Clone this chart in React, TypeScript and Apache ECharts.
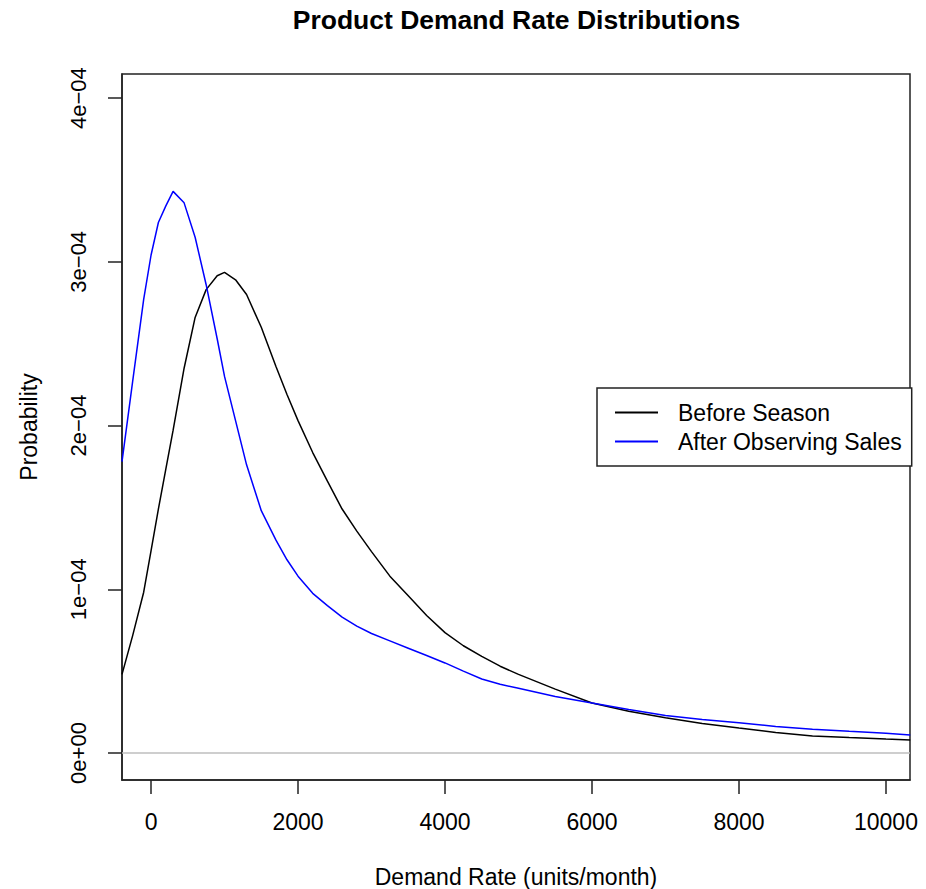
import React, { useEffect, useRef } from "react";
import * as echarts from "echarts";

// Demand rate (units/month) sample points
const demandRate = [
  -395, -250, -100, 0, 100, 200, 300, 450, 600, 750, 900, 1000, 1150, 1300,
  1500, 1700, 1850, 2000, 2200, 2400, 2600, 2800, 3000, 3250, 3500, 3750,
  4000, 4250, 4500, 4750, 5000, 5500, 6000, 6500, 7000, 7500, 8000, 8500,
  9000, 9500, 10000, 10330,
];

// Probability density, "Before Season"
const beforeSeason = [
  4.8e-5, 7.17e-5, 9.82e-5, 1.235e-4, 1.49e-4, 1.73e-4, 1.97e-4, 2.35e-4,
  2.66e-4, 2.83e-4, 2.915e-4, 2.935e-4, 2.89e-4, 2.8e-4, 2.6e-4, 2.36e-4,
  2.19e-4, 2.03e-4, 1.835e-4, 1.66e-4, 1.49e-4, 1.355e-4, 1.23e-4, 1.08e-4,
  9.6e-5, 8.4e-5, 7.35e-5, 6.55e-5, 5.9e-5, 5.3e-5, 4.8e-5, 3.9e-5, 3.05e-5,
  2.55e-5, 2.15e-5, 1.8e-5, 1.52e-5, 1.25e-5, 1.04e-5, 9.4e-6, 8.5e-6, 8.0e-6,
];

// Probability density, "After Observing Sales"
const afterSales = [
  1.78e-4, 2.27e-4, 2.77e-4, 3.04e-4, 3.24e-4, 3.34e-4, 3.43e-4, 3.36e-4,
  3.15e-4, 2.86e-4, 2.53e-4, 2.3e-4, 2.03e-4, 1.76e-4, 1.48e-4, 1.3e-4,
  1.18e-4, 1.08e-4, 9.75e-5, 9.0e-5, 8.3e-5, 7.75e-5, 7.3e-5, 6.85e-5,
  6.4e-5, 5.95e-5, 5.5e-5, 5.0e-5, 4.52e-5, 4.2e-5, 3.95e-5, 3.45e-5, 3.05e-5,
  2.65e-5, 2.29e-5, 2.05e-5, 1.84e-5, 1.62e-5, 1.45e-5, 1.32e-5, 1.2e-5, 1.1e-5,
];

const seriesNames = ["Before Season", "After Observing Sales"];
const xTicks = [0, 2000, 4000, 6000, 8000, 10000];
const xTickLabels = ["0", "2000", "4000", "6000", "8000", "10000"];
const yTicks = [0, 1e-4, 2e-4, 3e-4, 4e-4];
const yTickLabels = ["0e+00", "1e\u221204", "2e\u221204", "3e\u221204", "4e\u221204"];

const FONT = "'Liberation Sans', Arial, Helvetica, sans-serif";

export default function App() {
  const ref = useRef<HTMLDivElement>(null);

  useEffect(() => {
    if (!ref.current) return;
    const chart = echarts.init(ref.current, null, { renderer: "svg" });
    const option: any = {
      animation: false,
      backgroundColor: "#ffffff",
      textStyle: { fontFamily: FONT },
      graphic: [
        {
          type: "text",
          x: 516.5,
          y: 20,
          style: {
            text: "Product Demand Rate Distributions",
            font: `bold 26.5px ${FONT}`,
            fill: "#000",
            textAlign: "center",
            textVerticalAlign: "middle",
          },
        },
      ],
      grid: {
        left: 122,
        right: 16,
        top: 74,
        bottom: 109,
        show: true,
        borderColor: "#222",
        borderWidth: 1.5,
        backgroundColor: "transparent",
        containLabel: false,
        outerBoundsMode: "none",
      },
      legend: {
        orient: "vertical",
        left: 597,
        top: 388,
        padding: [13, 10, 13, 18],
        itemGap: 6,
        itemWidth: 43,
        itemHeight: 2,
        icon: "rect",
        borderColor: "#222",
        borderWidth: 1.5,
        backgroundColor: "#fff",
        borderRadius: 0,
        data: seriesNames,
        textStyle: {
          fontFamily: FONT,
          fontSize: 23,
          color: "#000",
          padding: [0, 0, 0, 15],
        },
      },
      xAxis: {
        type: "value",
        position: "bottom",
        min: -395,
        max: 10327,
        name: "Demand Rate (units/month)",
        nameLocation: "middle",
        nameGap: 85,
        nameTextStyle: { fontFamily: FONT, fontSize: 23, color: "#000" },
        axisLine: { show: true, onZero: false, lineStyle: { color: "#222", width: 1.5 } },
        axisTick: {
          show: true,
          inside: false,
          length: 14,
          customValues: xTicks,
          lineStyle: { color: "#222", width: 1.5 },
        },
        axisLabel: {
          customValues: xTicks,
          inside: false,
          fontFamily: FONT,
          fontSize: 23,
          color: "#000",
          margin: 30,
          formatter: (v: number) => xTickLabels[xTicks.indexOf(v)] ?? "",
        },
        splitLine: { show: false },
      },
      yAxis: {
        type: "value",
        position: "left",
        min: -0.165e-4,
        max: 4.147e-4,
        name: "Probability",
        nameLocation: "middle",
        nameRotate: 90,
        nameGap: 82,
        nameTextStyle: { fontFamily: FONT, fontSize: 23, color: "#000" },
        axisLine: { show: true, onZero: false, lineStyle: { color: "#222", width: 1.5 } },
        axisTick: {
          show: true,
          inside: false,
          length: 14,
          customValues: yTicks,
          lineStyle: { color: "#222", width: 1.5 },
        },
        axisLabel: {
          customValues: yTicks,
          inside: false,
          rotate: 90,
          fontFamily: FONT,
          fontSize: 22,
          color: "#000",
          margin: 33,
          formatter: (v: number) => yTickLabels[Math.round(v / 1e-4)] ?? "",
        },
        splitLine: { show: false },
      },
      series: [
        {
          name: seriesNames[0],
          type: "line",
          showSymbol: false,
          symbol: "none",
          color: "#000000",
          itemStyle: { color: "#000000" },
          lineStyle: { color: "#000000", width: 1.5 },
          data: demandRate.map((x, i) => [x, beforeSeason[i]]),
          markLine: {
            silent: true,
            symbol: "none",
            label: { show: false },
            lineStyle: { color: "#bebebe", type: "solid", width: 1.5 },
            data: [{ yAxis: 0 }],
          },
          z: 3,
        },
        {
          name: seriesNames[1],
          type: "line",
          showSymbol: false,
          symbol: "none",
          color: "#0000ff",
          itemStyle: { color: "#0000ff" },
          lineStyle: { color: "#0000ff", width: 1.5 },
          data: demandRate.map((x, i) => [x, afterSales[i]]),
          z: 3,
        },
      ],
    };
    chart.setOption(option);
    return () => chart.dispose();
  }, []);

  return (
    <div
      ref={ref}
      style={{ position: "fixed", left: 0, top: 0, width: 926, height: 889, background: "#fff" }}
    />
  );
}
